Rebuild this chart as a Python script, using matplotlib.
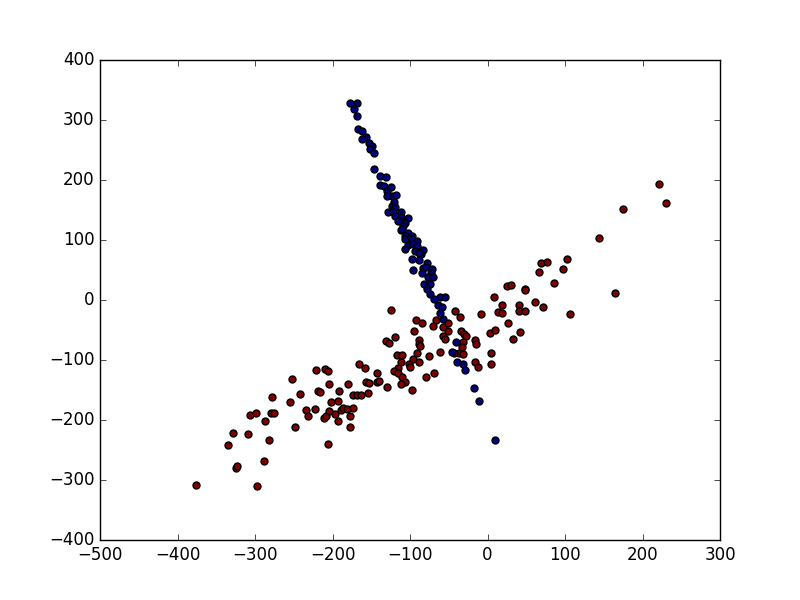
import matplotlib

matplotlib.use("Agg")

import matplotlib.pyplot as plt  # noqa: E402
import numpy as np  # noqa: E402

plt.style.use("classic")

# cluster 0 (blue): the steep band from top-left down to the crossing
blue_x = [
    -178, -168, -172, -169, -167, -162, -157, -162, -153, -149, -152, -147,
    -146, -139, -131, -139, -134, -124, -130, -123, -118, -130, -121, -123,
    -119, -128, -122, -112, -119, -111, -103, -110, -106, -116, -109, -111,
    -103, -110, -107, -97, -107, -97, -91, -103, -96, -91, -83, -106,
    -94, -86, -89, -97, -88, -78, -83, -79, -71, -96, -85, -73,
    -77, -70, -82, -74, -78, -74, -61, -55, -69, -64, -59, -61,
    -57, -41, -46, -40, -31, -29, -18, -11, 10,
]
blue_y = [
    328, 329, 318, 307, 285, 281, 271, 268, 261, 257, 252, 245,
    218, 207, 205, 192, 190, 188, 182, 173, 175, 174, 164, 157,
    155, 146, 147, 147, 140, 139, 136, 130, 128, 132, 123, 116,
    112, 119, 107, 107, 102, 101, 99, 92, 93, 90, 83, 85,
    81, 76, 79, 68, 66, 62, 53, 55, 51, 50, 45, 45,
    38, 39, 27, 27, 18, 10, 5, 5, 2, -8, -11, -22,
    -31, -70, -86, -104, -107, -116, -147, -169, -233,
]

# cluster 1 (red): the shallow band from bottom-left to top-right
red_x = [
    -376, -298, -335, -328, -325, -323, -309, -306, -299, -289, -282, -287,
    -278, -279, -275, -252, -255, -248, -242, -221, -210, -206, -219, -216,
    -204, -234, -232, -222, -211, -209, -205, -202, -193, -191, -197, -193,
    -189, -186, -181, -180, -177, -178, -174, -173, -168, -166, -206,
    -125, -42, -35, -8, 14, 19, 19, 9, 40, 40, 48, 61,
    -92, -85, -67, -70, -58, -51, -51, -95, -120, -131, -127, -88,
    -88, -87, -57, -55, -34, -30, -28, -32, -33, -16, -15, 3,
    10, 42, 33, -61, -75, -91, -117, -110, -111, -96, -89, -101,
    -100, -115, -121, -116, -110, -106, -111, -79, -69, -37, -31, -43,
    -16, -12, 4, 5, -97, -143, -158, -157, -153, -143, -140, -130,
    -154, -163, 221, 230, 175, 144, 103, 69, 77, 97, 67, 86,
    164, 25, 30, 49, 49, 72, 106, 26,
]
red_y = [
    -309, -310, -242, -222, -280, -276, -223, -192, -189, -268, -233, -201,
    -161, -189, -189, -132, -170, -212, -157, -117, -115, -119, -152, -154,
    -140, -184, -193, -182, -197, -193, -185, -170, -169, -152, -190, -202,
    -184, -180, -182, -140, -194, -211, -158, -180, -158, -107, -240,
    -16, -18, -28, -23, -20, -22, -8, 5, -9, -19, -18, -4,
    -34, -38, -34, -43, -45, -39, -52, -51, -61, -68, -72, -66,
    -73, -76, -60, -65, -51, -56, -60, -70, -79, -67, -74, -55,
    -50, -53, -65, -86, -93, -88, -92, -92, -104, -98, -104, -106,
    -112, -113, -118, -121, -128, -136, -140, -128, -122, -88, -90, -88,
    -104, -111, -89, -106, -150, -122, -114, -137, -139, -137, -135, -145,
    -155, -159, 193, 162, 152, 103, 69, 62, 64, 52, 46, 29,
    12, 23, 25, 19, 17, -11, -23, -39,
]

fig = plt.figure(figsize=(8, 6))
ax = fig.add_subplot(111)

ax.scatter(red_x, red_y, s=25, c="#7f0000", edgecolors="black", linewidths=1)
ax.scatter(blue_x, blue_y, s=25, c="#00007f", edgecolors="black", linewidths=1)

ax.set_xlim(-500, 300)
ax.set_ylim(-400, 400)
ax.set_xticks(np.arange(-500, 301, 100))
ax.set_yticks(np.arange(-400, 401, 100))

fig.savefig("out.png", dpi=100)
plt.close(fig)
